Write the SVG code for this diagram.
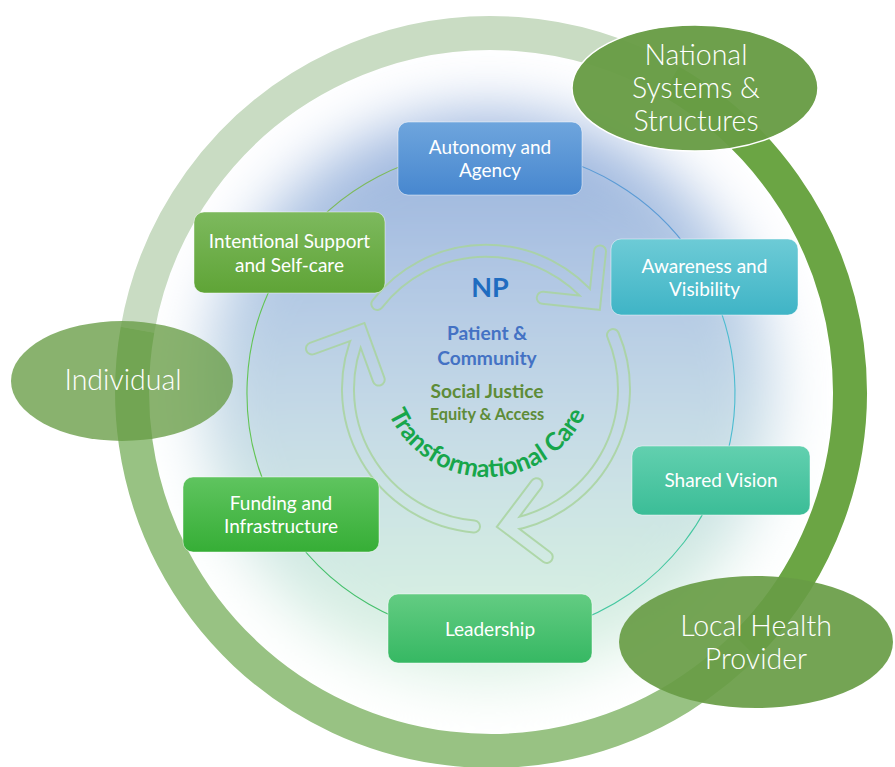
<svg xmlns="http://www.w3.org/2000/svg" width="895" height="767" viewBox="0 0 895 767">
  <defs>
    <style>
      .lbl{font-family:Lato,"Open Sans","Liberation Sans",sans-serif;fill:#fff;text-anchor:middle;font-size:19px}
      .big{font-family:Lato,"Open Sans","Liberation Sans",sans-serif;fill:#fff;text-anchor:middle;font-size:28.5px;font-weight:300}
      .ctr{font-family:Lato,"Open Sans","Liberation Sans",sans-serif;font-weight:700;text-anchor:middle}
      .box{stroke:#fff;stroke-opacity:.45;stroke-width:1}
      .seg{fill:none;stroke-width:1.1}
      .band{fill:none;stroke-width:34}
      .arw{fill:none;stroke-linecap:round;stroke-linejoin:miter}
    </style>
    <linearGradient id="glowFill" x1="0" y1="0" x2="0" y2="1">
      <stop offset="0" stop-color="#96b0dc"/>
      <stop offset=".3" stop-color="#b2c8e4"/>
      <stop offset=".55" stop-color="#c6dbe6"/>
      <stop offset=".8" stop-color="#d2ebe2"/>
      <stop offset="1" stop-color="#e0f4e6"/>
    </linearGradient>
    <filter id="soft" x="-30%" y="-30%" width="160%" height="160%">
      <feGaussianBlur stdDeviation="30"/>
    </filter>
    <linearGradient id="gBlue" x1="0" y1="0" x2="0" y2="1"><stop offset="0" stop-color="#6ea5dd"/><stop offset="1" stop-color="#4787cf"/></linearGradient>
    <linearGradient id="gLeaf" x1="0" y1="0" x2="0" y2="1"><stop offset="0" stop-color="#7db95e"/><stop offset="1" stop-color="#5fa436"/></linearGradient>
    <linearGradient id="gCyan" x1="0" y1="0" x2="0" y2="1"><stop offset="0" stop-color="#6dcbd6"/><stop offset="1" stop-color="#3fb4c6"/></linearGradient>
    <linearGradient id="gTeal" x1="0" y1="0" x2="0" y2="1"><stop offset="0" stop-color="#62d0af"/><stop offset="1" stop-color="#3bbd97"/></linearGradient>
    <linearGradient id="gGrass" x1="0" y1="0" x2="0" y2="1"><stop offset="0" stop-color="#5fc45f"/><stop offset="1" stop-color="#36ae36"/></linearGradient>
    <linearGradient id="gMint" x1="0" y1="0" x2="0" y2="1"><stop offset="0" stop-color="#63cc82"/><stop offset="1" stop-color="#36b863"/></linearGradient>

    <!-- centre lines of the three cycle arrows -->
    <path id="arrowTop" d="M377.3 304 A138 138 0 0 1 594.5 303.2 M600 251.5 L594.5 303.2 L542.8 297.8"/>
    <path id="arrowRight" d="M613 335.1 A138 138 0 0 1 505.2 525.7 M536.5 484.2 L505.2 525.7 L546.7 557"/>
    <path id="arrowLeft" d="M474 526.5 A138 138 0 0 1 360.9 330.7 M312 348.5 L360.9 330.7 L378.7 379.6"/>
    <mask id="arrowHole" maskUnits="userSpaceOnUse" x="0" y="0" width="895" height="767">
      <rect width="895" height="767" fill="#fff"/>
      <g class="arw" stroke="#000" stroke-width="10">
        <use href="#arrowTop"/><use href="#arrowRight"/><use href="#arrowLeft"/>
      </g>
    </mask>
    <path id="careArc" d="M380.6 387.6 A108 108 0 0 0 593.4 387.6"/>
  </defs>

  <rect width="895" height="767" fill="#fff"/>

  <!-- soft backdrop behind the cycle -->
  <g id="glow">
    <circle cx="488" cy="398" r="285" fill="url(#glowFill)" filter="url(#soft)"/>
  </g>

  <!-- outer ring in three coloured sections -->
  <g id="ring">
    <path class="band" stroke="#c9dcc3" d="M137.5 329.7 A359 359 0 0 1 670.5 81.1"/>
    <path class="band" stroke="#98c283" d="M766 622.8 A359 359 0 0 1 137.5 329.7"/>
    <path class="band" stroke="#6ba544" d="M670.5 81.1 A359 359 0 0 1 744.8 645.8"/>
  </g>

  <!-- thin cycle circle linking the boxes -->
  <g id="connectors">
    <path class="seg" stroke="#7dba5b" d="M291.1 253 A244 244 0 0 1 491 149"/>
    <path class="seg" stroke="#5b9bd5" d="M491 149 A244 244 0 0 1 705.2 276.2"/>
    <path class="seg" stroke="#4cbcd0" d="M705.2 276.2 A244 244 0 0 1 719.2 479.3"/>
    <path class="seg" stroke="#44c7a0" d="M719.2 479.3 A244 244 0 0 1 491 637"/>
    <path class="seg" stroke="#45c06c" d="M491 637 A244 244 0 0 1 279.7 515"/>
    <path class="seg" stroke="#62c453" d="M279.7 515 A244 244 0 0 1 291.1 253"/>
  </g>

  <!-- outlined cycle arrows -->
  <g id="cycle-arrows" mask="url(#arrowHole)" opacity=".85">
    <g class="arw" stroke="#a9d49f" stroke-width="14">
      <use href="#arrowTop"/><use href="#arrowRight"/><use href="#arrowLeft"/>
    </g>
  </g>

  <!-- centre labels -->
  <g id="centre">
    <text class="ctr" x="490" y="297" font-size="27" fill="#1f6cc0">NP</text>
    <text class="ctr" x="487" y="340" font-size="19.2" fill="#4472c4">Patient &amp;</text>
    <text class="ctr" x="487" y="365" font-size="19.2" fill="#4472c4">Community</text>
    <text class="ctr" x="487" y="398" font-size="19.2" fill="#5e8c38">Social Justice</text>
    <text class="ctr" x="487" y="420" font-size="16.3" fill="#5e8c38">Equity &amp; Access</text>
    <text class="ctr" font-size="25" fill="#17a64b"><textPath href="#careArc" startOffset="50%">Transformational Care</textPath></text>
  </g>

  <!-- boxes -->
  <g id="autonomy">
    <rect class="box" x="398" y="122" width="184" height="73" rx="10" fill="url(#gBlue)"/>
    <text class="lbl" x="490" y="154">Autonomy and</text>
    <text class="lbl" x="490" y="177">Agency</text>
  </g>
  <g id="intentional">
    <rect class="box" x="194" y="212" width="191" height="81" rx="10" fill="url(#gLeaf)"/>
    <text class="lbl" x="289.5" y="248">Intentional Support</text>
    <text class="lbl" x="289.5" y="272">and Self-care</text>
  </g>
  <g id="awareness">
    <rect class="box" x="611" y="239" width="187" height="76" rx="10" fill="url(#gCyan)"/>
    <text class="lbl" x="704.5" y="273">Awareness and</text>
    <text class="lbl" x="704.5" y="296">Visibility</text>
  </g>
  <g id="shared-vision">
    <rect class="box" x="632" y="446" width="178" height="69" rx="10" fill="url(#gTeal)"/>
    <text class="lbl" x="721" y="487">Shared Vision</text>
  </g>
  <g id="funding">
    <rect class="box" x="183" y="477" width="196" height="75" rx="10" fill="url(#gGrass)"/>
    <text class="lbl" x="281" y="510">Funding and</text>
    <text class="lbl" x="281" y="533">Infrastructure</text>
  </g>
  <g id="leadership">
    <rect class="box" x="388" y="594" width="204" height="69" rx="10" fill="url(#gMint)"/>
    <text class="lbl" x="490" y="636">Leadership</text>
  </g>

  <!-- level ellipses on the outer ring -->
  <g id="national">
    <ellipse cx="695" cy="88" rx="123" ry="63" fill="#689c45" fill-opacity=".96" stroke="#fff" stroke-width="1.5"/>
    <text class="big" x="696" y="65">National</text>
    <text class="big" x="696" y="98">Systems &amp;</text>
    <text class="big" x="696" y="131">Structures</text>
  </g>
  <g id="individual">
    <ellipse cx="122" cy="381" rx="111" ry="60" fill="#689c45" fill-opacity=".78"/>
    <text class="big" x="123" y="390">Individual</text>
  </g>
  <g id="local-health">
    <ellipse cx="756" cy="642" rx="137" ry="66" fill="#689c45" fill-opacity=".92"/>
    <text class="big" x="756" y="636">Local Health</text>
    <text class="big" x="756" y="669">Provider</text>
  </g>
</svg>
